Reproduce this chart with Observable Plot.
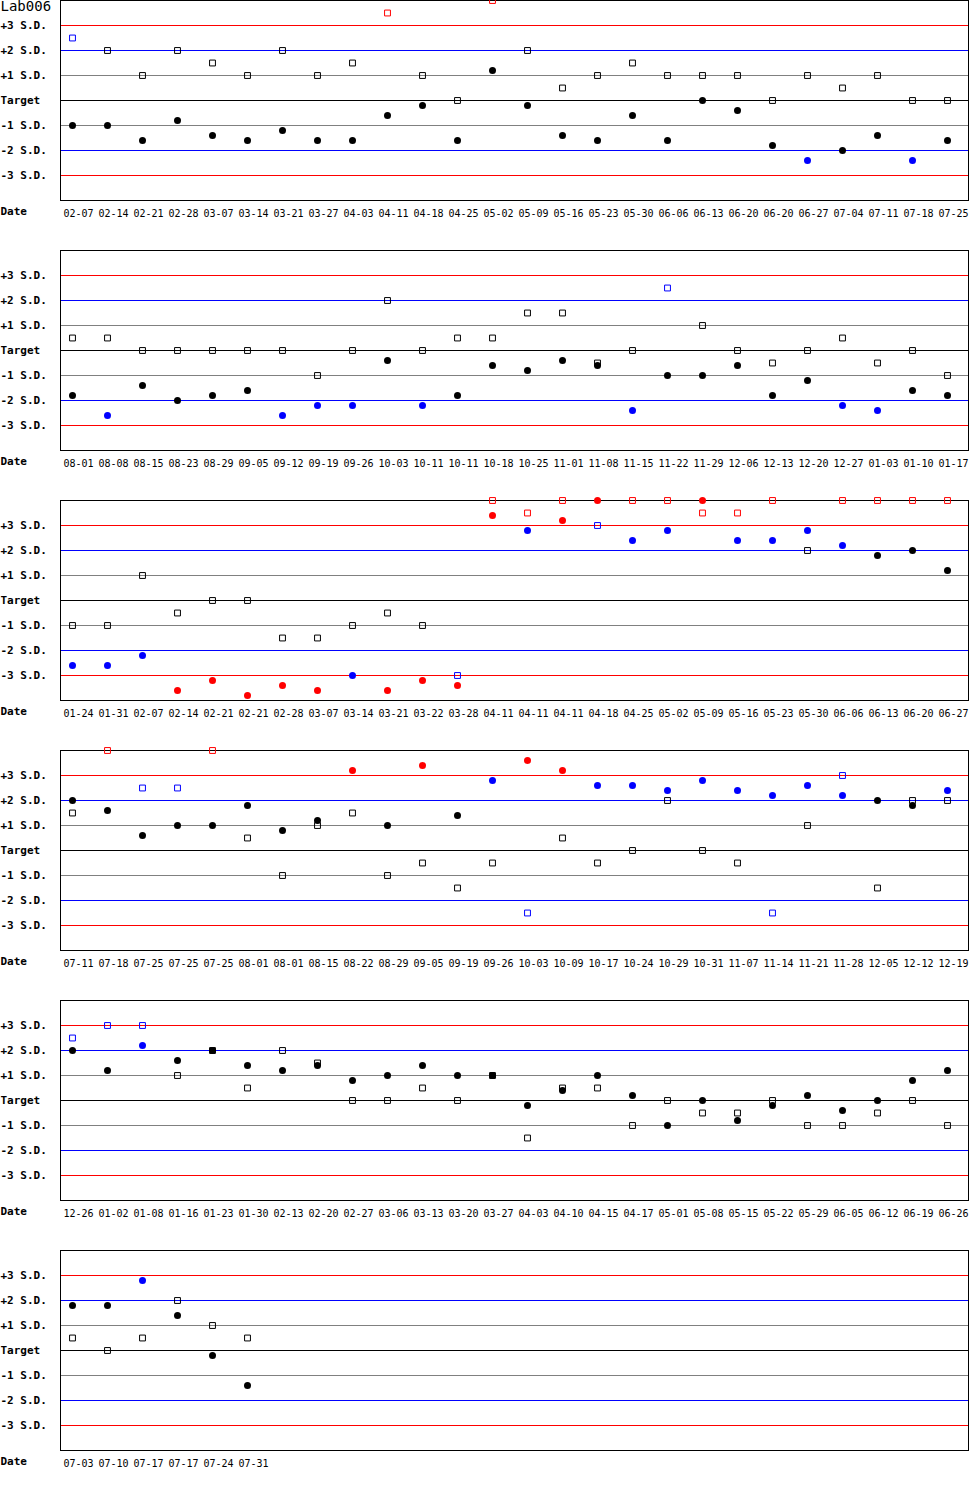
<!DOCTYPE html>
<html>
<head>
<meta charset="utf-8">
<script src="https://cdn.jsdelivr.net/npm/d3@7"></script>
<script src="https://cdn.jsdelivr.net/npm/@observablehq/plot@0.6"></script>
<style>
  html, body { margin: 0; padding: 0; background: white; overflow: hidden; }
  #chart { width: 970px; }
</style>
</head>
<body>
<div id="chart"></div>
<script>
// ---- Data (values in S.D. units from target) ----
const title = "Lab006";

const sdLevels = [3, 2, 1, 0, -1, -2, -3];
const sdLabels = ["+3 S.D.", "+2 S.D.", "+1 S.D.", "Target", "-1 S.D.", "-2 S.D.", "-3 S.D."];

// Panel 1
const dates1 = ["02-07","02-14","02-21","02-28","03-07","03-14","03-21","03-27","04-03","04-11","04-18","04-25","05-02","05-09","05-16","05-23","05-30","06-06","06-13","06-20","06-20","06-27","07-04","07-11","07-18","07-25"];
const circles1 = [-1, -1, -1.6, -0.8, -1.4, -1.6, -1.2, -1.6, -1.6, -0.6, -0.2, -1.6, 1.2, -0.2, -1.4, -1.6, -0.6, -1.6, 0, -0.4, -1.8, -2.4, -2, -1.4, -2.4, -1.6];
const squares1 = [2.5, 2, 1, 2, 1.5, 1, 2, 1, 1.5, 3.5, 1, 0, 4, 2, 0.5, 1, 1.5, 1, 1, 1, 0, 1, 0.5, 1, 0, 0];

// Panel 2
const dates2 = ["08-01","08-08","08-15","08-23","08-29","09-05","09-12","09-19","09-26","10-03","10-11","10-11","10-18","10-25","11-01","11-08","11-15","11-22","11-29","12-06","12-13","12-20","12-27","01-03","01-10","01-17"];
const circles2 = [-1.8, -2.6, -1.4, -2, -1.8, -1.6, -2.6, -2.2, -2.2, -0.4, -2.2, -1.8, -0.6, -0.8, -0.4, -0.6, -2.4, -1, -1, -0.6, -1.8, -1.2, -2.2, -2.4, -1.6, -1.8];
const squares2 = [0.5, 0.5, 0, 0, 0, 0, 0, -1, 0, 2, 0, 0.5, 0.5, 1.5, 1.5, -0.5, 0, 2.5, 1, 0, -0.5, 0, 0.5, -0.5, 0, -1];

// Panel 3
const dates3 = ["01-24","01-31","02-07","02-14","02-21","02-21","02-28","03-07","03-14","03-21","03-22","03-28","04-11","04-11","04-11","04-18","04-25","05-02","05-09","05-16","05-23","05-30","06-06","06-13","06-20","06-27"];
const circles3 = [-2.6, -2.6, -2.2, -3.6, -3.2, -3.8, -3.4, -3.6, -3, -3.6, -3.2, -3.4, 3.4, 2.8, 3.2, 4, 2.4, 2.8, 4, 2.4, 2.4, 2.8, 2.2, 1.8, 2, 1.2];
const squares3 = [-1, -1, 1, -0.5, 0, 0, -1.5, -1.5, -1, -0.5, -1, -3, 4, 3.5, 4, 3, 4, 4, 3.5, 3.5, 4, 2, 4, 4, 4, 4];

// Panel 4
const dates4 = ["07-11","07-18","07-25","07-25","07-25","08-01","08-01","08-15","08-22","08-29","09-05","09-19","09-26","10-03","10-09","10-17","10-24","10-29","10-31","11-07","11-14","11-21","11-28","12-05","12-12","12-19"];
const circles4 = [2, 1.6, 0.6, 1, 1, 1.8, 0.8, 1.2, 3.2, 1, 3.4, 1.4, 2.8, 3.6, 3.2, 2.6, 2.6, 2.4, 2.8, 2.4, 2.2, 2.6, 2.2, 2, 1.8, 2.4];
const squares4 = [1.5, 4, 2.5, 2.5, 4, 0.5, -1, 1, 1.5, -1, -0.5, -1.5, -0.5, -2.5, 0.5, -0.5, 0, 2, 0, -0.5, -2.5, 1, 3, -1.5, 2, 2];

// Panel 5
const dates5 = ["12-26","01-02","01-08","01-16","01-23","01-30","02-13","02-20","02-27","03-06","03-13","03-20","03-27","04-03","04-10","04-15","04-17","05-01","05-08","05-15","05-22","05-29","06-05","06-12","06-19","06-26"];
const circles5 = [2, 1.2, 2.2, 1.6, 2, 1.4, 1.2, 1.4, 0.8, 1, 1.4, 1, 1, -0.2, 0.4, 1, 0.2, -1, 0, -0.8, -0.2, 0.2, -0.4, 0, 0.8, 1.2];
const squares5 = [2.5, 3, 3, 1, 2, 0.5, 2, 1.5, 0, 0, 0.5, 0, 1, -1.5, 0.5, 0.5, -1, 0, -0.5, -0.5, 0, -1, -1, -0.5, 0, -1];

// Panel 6
const dates6 = ["07-03","07-10","07-17","07-17","07-24","07-31"];
const circles6 = [1.8, 1.8, 2.8, 1.4, -0.2, -1.4];
const squares6 = [0.5, 0, 0.5, 2, 1, 0.5];

const panels = [
  [dates1, circles1, squares1],
  [dates2, circles2, squares2],
  [dates3, circles3, squares3],
  [dates4, circles4, squares4],
  [dates5, circles5, squares5],
  [dates6, circles6, squares6]
];

// ---- Styling helpers ----
const RED = "#ff0000", BLUE = "#0000ff", BLACK = "#000000", GRAY = "#808080";
const pointColor = v => Math.abs(v) > 3 + 1e-9 ? RED : Math.abs(v) > 2 + 1e-9 ? BLUE : BLACK;
const lineColor = v => Math.abs(v) === 3 ? RED : Math.abs(v) === 2 ? BLUE : Math.abs(v) === 1 ? GRAY : BLACK;

const container = document.getElementById("chart");

panels.forEach(([dates, circles, squares], p) => {
  const rows = dates.map((d, i) => ({slot: i, date: d, c: circles[i], s: squares[i]}));
  const marks = [
    Plot.ruleY(sdLevels, {y: d => d, stroke: d => lineColor(d), strokeWidth: 1, shapeRendering: "crispEdges"}),
    Plot.frame({stroke: BLACK, shapeRendering: "crispEdges"}),
    Plot.dot(rows, {x: "slot", y: "s", symbol: "square", r: 3.3, fill: "none", stroke: d => pointColor(d.s), strokeWidth: 1}),
    Plot.dot(rows, {x: "slot", y: "c", symbol: "circle", r: 3.5, fill: d => pointColor(d.c), stroke: "none"}),
    Plot.text(sdLevels, {y: d => d, text: (d, i) => sdLabels[i], frameAnchor: "left", dx: -60, dy: -0.5, textAnchor: "start", fontWeight: "bold", fontSize: 11, fill: BLACK}),
    Plot.text(rows, {x: "slot", text: "date", frameAnchor: "bottom", dy: 16.5, dx: -9, textAnchor: "start", fontSize: 10, fill: BLACK}),
    Plot.text(["Date"], {frameAnchor: "bottom-left", dx: -60, dy: 14.5, textAnchor: "start", fontWeight: "bold", fontSize: 11, fill: BLACK})
  ];
  if (p === 0) {
    marks.push(Plot.text([title], {frameAnchor: "top-left", dx: -60, dy: 1, lineAnchor: "top", textAnchor: "start", fontSize: 14, fill: BLACK}));
  }
  const svg = Plot.plot({
    width: 970,
    height: 250,
    marginLeft: 60,
    marginRight: 2,
    marginTop: 0,
    marginBottom: 50,
    x: {type: "linear", domain: [0, 25], range: [72, 947], axis: null},
    y: {type: "linear", domain: [-4, 4], range: [200, 0], axis: null},
    style: {fontFamily: "'DejaVu Sans Mono', monospace", fontSize: "10px", overflow: "visible", background: "white", display: "block"},
    marks
  });
  container.appendChild(svg);
});
</script>
</body>
</html>
